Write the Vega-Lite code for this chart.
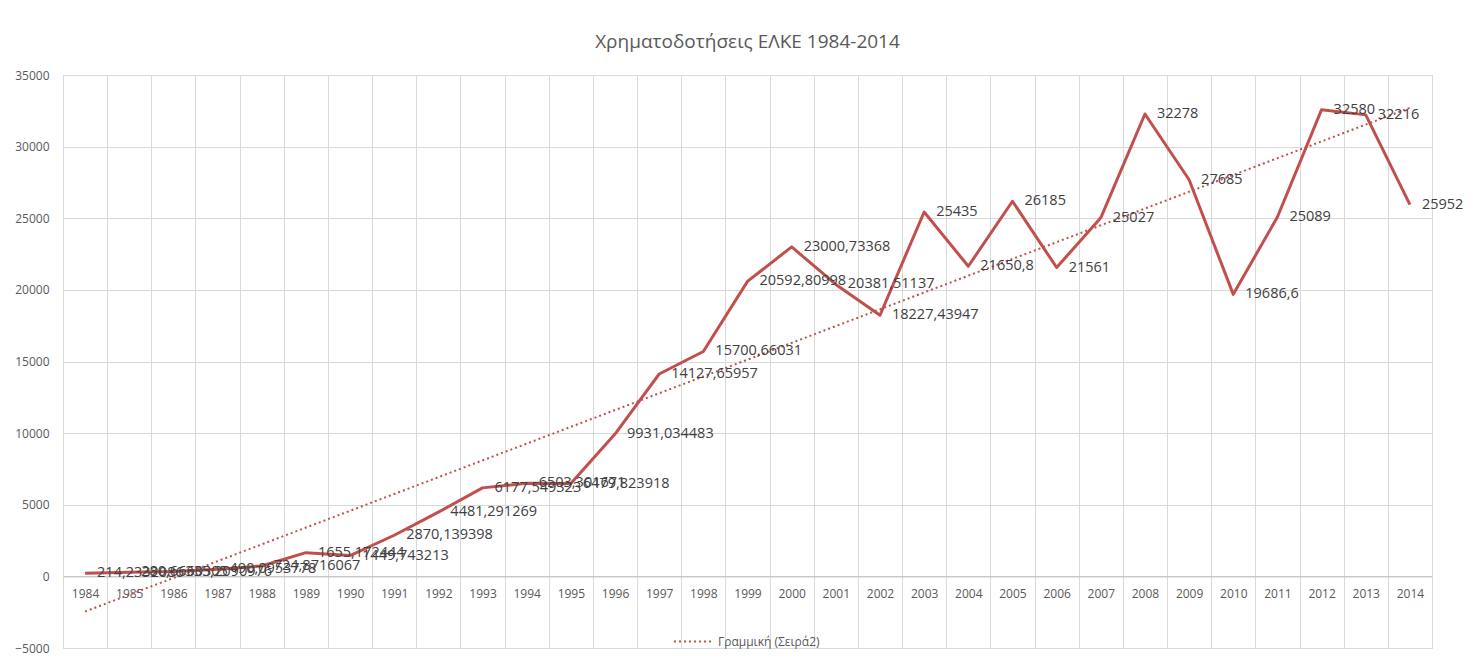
{
  "$schema": "https://vega.github.io/schema/vega-lite/v6.json",
  "width": 1369,
  "height": 573,
  "autosize": {"type": "none"},
  "padding": {"left": 63, "top": 75, "right": 51, "bottom": 16},
  "background": "white",
  "title": {"text": "Χρηματοδοτήσεις ΕΛΚΕ 1984-2014", "fontSize": 19, "font": "Open Sans", "fontWeight": "normal", "color": "#595959", "offset": 17, "anchor": "middle"},
  "config": {"view": {"stroke": "#D9D9D9"}, "font": "Open Sans"},
  "data": {"values": [
    {"year": 1984, "value": 214.2332086, "label": "214,2332086"},
    {"year": 1985, "value": 280.6660305, "label": "280,6660305"},
    {"year": 1986, "value": 335.2090976, "label": "335,2090976"},
    {"year": 1987, "value": 490.0953778, "label": "490,0953778"},
    {"year": 1988, "value": 724.8716067, "label": "724,8716067"},
    {"year": 1989, "value": 1655.172444, "label": "1655,172444"},
    {"year": 1990, "value": 1449.743213, "label": "1449,743213"},
    {"year": 1991, "value": 2870.139398, "label": "2870,139398"},
    {"year": 1992, "value": 4481.291269, "label": "4481,291269"},
    {"year": 1993, "value": 6177.549323, "label": "6177,549323"},
    {"year": 1994, "value": 6503.301671, "label": "6503,301671"},
    {"year": 1995, "value": 6479.823918, "label": "6479,823918"},
    {"year": 1996, "value": 9931.034483, "label": "9931,034483"},
    {"year": 1997, "value": 14127.65957, "label": "14127,65957"},
    {"year": 1998, "value": 15700.66031, "label": "15700,66031"},
    {"year": 1999, "value": 20592.80998, "label": "20592,80998"},
    {"year": 2000, "value": 23000.73368, "label": "23000,73368"},
    {"year": 2001, "value": 20381.51137, "label": "20381,51137"},
    {"year": 2002, "value": 18227.43947, "label": "18227,43947"},
    {"year": 2003, "value": 25435, "label": "25435"},
    {"year": 2004, "value": 21650.8, "label": "21650,8"},
    {"year": 2005, "value": 26185, "label": "26185"},
    {"year": 2006, "value": 21561, "label": "21561"},
    {"year": 2007, "value": 25027, "label": "25027"},
    {"year": 2008, "value": 32278, "label": "32278"},
    {"year": 2009, "value": 27685, "label": "27685"},
    {"year": 2010, "value": 19686.6, "label": "19686,6"},
    {"year": 2011, "value": 25089, "label": "25089"},
    {"year": 2012, "value": 32580, "label": "32580"},
    {"year": 2013, "value": 32216, "label": "32216"},
    {"year": 2014, "value": 25952, "label": "25952"}
  ]},
  "encoding": {
    "x": {"field": "year", "type": "ordinal",
      "scale": {"paddingInner": 0, "paddingOuter": 0},
      "axis": {"title": null, "labelAngle": 0, "tickBand": "extent", "ticks": false, "grid": true, "gridColor": "#D9D9D9", "domainColor": "#BFBFBF", "offset": -71.6, "labelPadding": 12, "labelFontSize": 12, "labelColor": "#595959", "labelFont": "Open Sans"}},
    "y": {"field": "value", "type": "quantitative",
      "scale": {"domain": [-5000, 35000], "nice": false, "zero": false},
      "axis": {"title": null, "values": [-5000, 0, 5000, 10000, 15000, 20000, 25000, 30000, 35000], "format": "d", "grid": true, "gridColor": "#D9D9D9", "domain": false, "ticks": false, "labelPadding": 14, "labelFontSize": 12, "labelColor": "#595959", "labelFont": "Open Sans"}}
  },
  "layer": [
    {
      "transform": [{"regression": "value", "on": "year"}],
      "mark": {"type": "line", "strokeDash": [2, 3], "strokeWidth": 2},
      "encoding": {
        "color": {"datum": "Γραμμική (Σειρά2)", "scale": {"range": ["#C0504D"]},
          "legend": {"title": null, "orient": "none", "legendX": 610, "legendY": 546, "symbolType": "stroke", "symbolDash": [2, 3], "symbolStrokeWidth": 2, "symbolSize": 1521, "labelFontSize": 12, "labelColor": "#595959", "labelFont": "Open Sans"}}
      }
    },
    {
      "mark": {"type": "line", "color": "#C0504D", "strokeWidth": 3, "strokeJoin": "round"}
    },
    {
      "mark": {"type": "text", "align": "left", "baseline": "middle", "dx": 12, "fontSize": 14.5, "color": "#404040", "font": "Open Sans"},
      "encoding": {"text": {"field": "label"}}
    }
  ]
}
